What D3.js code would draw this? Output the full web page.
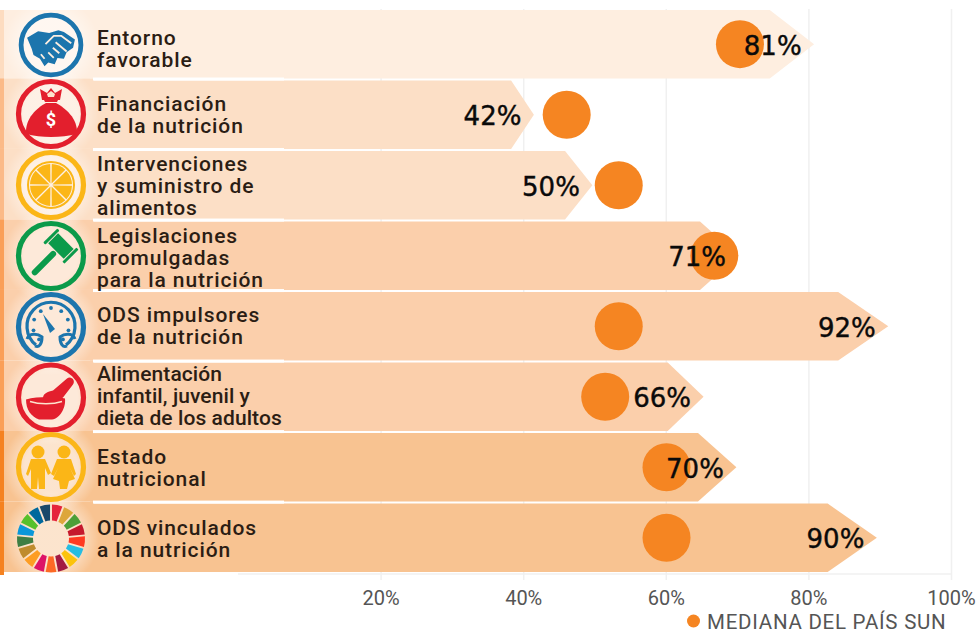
<!DOCTYPE html>
<html>
<head>
<meta charset="utf-8">
<script src="https://cdn.jsdelivr.net/npm/d3@7"></script>
<style>
  html, body { margin: 0; padding: 0; background: #fff; }
  svg { display: block; }
</style>
</head>
<body>
<div id="chart"></div>
<script>
var w = 977
var h = 633

var categories = [
  ["Entorno", "favorable"],
  ["Financiación", "de la nutrición"],
  ["Intervenciones", "y suministro de", "alimentos"],
  ["Legislaciones", "promulgadas", "para la nutrición"],
  ["ODS impulsores", "de la nutrición"],
  ["Alimentación", "infantil, juvenil y", "dieta de los adultos"],
  ["Estado", "nutricional"],
  ["ODS vinculados", "a la nutrición"]
];
var scoreLabels = [81, 42, 50, 71, 92, 66, 70, 90];   // printed on the arrows
var arrowTips = [80.8, 41.5, 49.7, 70.2, 91.2, 65.3, 69.9, 89.6];   // where the drawn tip really lands
var medians = [70.4, 46.1, 53.4, 66.8, 53.4, 51.5, 60.1, 60.1];
var tickValues = [20, 40, 60, 80, 100];
var sdgGoals = d3.range(1, 18);

var rowColors = ["#feeee0", "#fcdfc6", "#fcdfc6", "#fbcfab", "#fbcfab", "#fbcfab", "#f8c391", "#f8c391"];
var stripColors = ["#fddcc0", "#fbba88", "#fbba88", "#fa9f58", "#fa9f58", "#fa9f58", "#f58220", "#f58220"];
var sdgColors = ["#e5243b", "#dda63a", "#4c9f38", "#c5192d", "#ff3a21", "#26bde2", "#fcc30b", "#a21942", "#fd6925",
                 "#dd1367", "#fd9d24", "#bf8b2e", "#3f7e44", "#0a97d9", "#56c02b", "#00689d", "#19486a"];
var orange = "#f58522";
var blue = "#1c75ad", red = "#e31f2d", yellow = "#fbb617", green = "#0b9a4a";

var x = d3.scaleLinear().domain([0, 100]).range([238, 951]);
var y = d3.scaleBand().domain(d3.range(categories.length)).range([10, 572]).paddingInner(0.03);

var svg = d3.select("#chart").append("svg")
    .attr("width", w)
    .attr("height", h);

var defs = svg.append("defs");
var glow = defs.append("radialGradient").attr("id", "glow");
glow.append("stop").attr("offset", "55%").attr("stop-color", "#fff").attr("stop-opacity", 0.55);
glow.append("stop").attr("offset", "100%").attr("stop-color", "#fff").attr("stop-opacity", 0);

// gridlines come from the axis ticks
var axis = svg.append("g")
    .attr("transform", "translate(0,580)")
    .call(d3.axisBottom(x).tickValues(tickValues).tickSize(-571).tickPadding(11).tickFormat(function(d) { return d + "%"; }));
axis.select(".domain").remove();
axis.selectAll(".tick line").attr("stroke", "#f0f0f0").attr("stroke-width", 1.5);
axis.selectAll(".tick text")
    .style("font-family", "Roboto")
    .style("font-size", "20px")
    .attr("fill", "#555");

svg.append("line")
    .attr("x1", x(0)).attr("x2", x(100))
    .attr("y1", 574).attr("y2", 574)
    .attr("stroke", "#f0f0f0").attr("stroke-width", 1.5);

var rowTop = function(i) { return y(i) - (i ? y.step() - y.bandwidth() : 0); };
var rowHeight = function(i) { return y.bandwidth() + (i ? y.step() - y.bandwidth() : 0); };

// left panel, no gap between the rows under the icons
svg.selectAll("rect.panel").data(categories).enter()
  .append("rect")
    .attr("class", "panel")
    .attr("x", 0)
    .attr("y", function(d, i) { return rowTop(i); })
    .attr("width", 94)
    .attr("height", function(d, i) { return rowHeight(i); })
    .attr("fill", function(d, i) { return rowColors[i]; });

svg.selectAll("path.arrow").data(categories).enter()
  .append("path")
    .attr("class", "arrow")
    .attr("fill", function(d, i) { return rowColors[i]; })
    .attr("d", function(d, i) {
      var tip = x(arrowTips[i]);
      var head = (tip - x(0)) * 0.077;
      var top = y(i), bot = y(i) + y.bandwidth();
      return d3.line()([[90, top], [tip - head, top], [tip, (top + bot) / 2], [tip - head, bot], [90, bot]]) + "Z";
    });

// thicker white rules in the label part
svg.selectAll("rect.rule").data(categories.slice(1)).enter()
  .append("rect")
    .attr("class", "rule")
    .attr("x", 93)
    .attr("y", function(d, i) { return y(i + 1) - 3; })
    .attr("width", 191)
    .attr("height", 3)
    .attr("fill", "#fff");

var iconX = 51;
var iconY = [45, 114, 185, 256, 327, 397.5, 467, 538.5];
var iconRing = [blue, red, yellow, green, blue, red, yellow, null];
var iconScale = [0.92, 1, 1, 1, 1, 1, 1, 1];

svg.selectAll("circle.glow").data(categories).enter()
  .append("circle")
    .attr("class", "glow")
    .attr("cx", iconX)
    .attr("cy", function(d, i) { return iconY[i]; })
    .attr("r", 48)
    .attr("fill", "url(#glow)");

svg.selectAll("rect.strip").data(categories).enter()
  .append("rect")
    .attr("class", "strip")
    .attr("x", 0)
    .attr("y", function(d, i) { return rowTop(i); })
    .attr("width", 4)
    .attr("height", function(d, i) { return rowHeight(i) + (i == 7 ? 3 : 0); })
    .attr("fill", function(d, i) { return stripColors[i]; });

var rows = svg.selectAll("g.row").data(categories).enter()
  .append("g")
    .attr("class", "row");

var icons = rows.append("g")
    .attr("transform", function(d, i) { return "translate(" + iconX + "," + iconY[i] + ") scale(" + iconScale[i] + ")"; });

icons.filter(function(d, i) { return iconRing[i]; }).append("circle")
    .attr("r", 32.5)
    .attr("fill", "none")
    .attr("stroke-width", 5.2)
    .attr("stroke", function(d) { return iconRing[categories.indexOf(d)]; });

var iconAt = function(i) { return icons.filter(function(d, j) { return i == j; }); };

// handshake
var hand = iconAt(0);
hand.append("path").attr("fill", blue)
    .attr("d", "M-26,-8 L-14,-15 L-2,-13 L8,-16 L14,-14 L26,-6 L24,3 L17,8 L14,15 L7,14 L4,21 L-3,19 L-7,23 L-12,15 L-19,11 L-21,4 Z");
hand.append("path").attr("fill", "none").attr("stroke", "#feeee0").attr("stroke-width", 2).attr("stroke-linejoin", "round")
    .attr("d", "M-6,-1 L3,-10 L11,-10 L22,-2 M5,-3 L17,7 M9,9 L2,3 M3,14 L-3,8 M-7,15 L-11,10");

// money bag
var bag = iconAt(1);
bag.append("path").attr("fill", red)
    .attr("d", "M-25,20 C-26,4 -14,-6 -5,-11 L5,-11 C14,-6 27,4 26,20 C10,24 -10,24 -25,20 Z");
bag.append("path").attr("fill", red)
    .attr("d", "M-11,-25 L-4,-21 L0,-26 L4,-21 L11,-25 L9,-14 L-9,-14 Z M-8,-16 L8,-16 L6,-12 L-6,-12 Z");
bag.append("path").attr("fill", "#fde3cd").attr("d", "M-4,-20 L0,-23 L4,-20 L3,-17 L-3,-17 Z");
bag.append("text")
    .attr("y", 12)
    .attr("text-anchor", "middle")
    .style("font-family", "Roboto")
    .style("font-weight", 700)
    .style("font-size", "18px")
    .attr("fill", "#fff")
    .text("$");

// orange slice, one wedge per pie slice
var orangeSlice = iconAt(2);
orangeSlice.append("circle").attr("r", 23).attr("fill", "none").attr("stroke", yellow).attr("stroke-width", 2);
orangeSlice.selectAll("path.wedge").data(d3.pie().value(1).startAngle(0).endAngle(Math.PI * 2)(d3.range(8))).enter()
  .append("path")
    .attr("class", "wedge")
    .attr("fill", yellow)
    .attr("d", d3.arc().innerRadius(1.5).outerRadius(21).padAngle(0.07));

// gavel
var gavel = iconAt(3);
gavel.append("g").attr("transform", "rotate(45)").call(function(g) {
  g.append("rect").attr("x", -3).attr("y", -6).attr("width", 6).attr("height", 32).attr("rx", 3).attr("fill", green);
  g.append("rect").attr("x", -11).attr("y", -21).attr("width", 22).attr("height", 14).attr("fill", green);
  g.append("rect").attr("x", -15).attr("y", -24).attr("width", 3).attr("height", 20).attr("rx", 1).attr("fill", green);
  g.append("rect").attr("x", 12).attr("y", -24).attr("width", 3).attr("height", 20).attr("rx", 1).attr("fill", green);
});

// gauge
var gauge = iconAt(4);
gauge.append("path").attr("fill", "none").attr("stroke", blue).attr("stroke-width", 3.2)
    .attr("d", "M-15,18 A24,24 0 1 1 15,18");
gauge.append("path").attr("fill", "none").attr("stroke", blue).attr("stroke-width", 3)
    .attr("d", "M-24,12 C-22,6 -14,6 -9,10 C-9,17 -12,21 -16,19 M24,12 C22,6 14,6 9,10 C9,17 12,21 16,19");
gauge.selectAll("circle.dot").data(d3.range(9)).enter()
  .append("circle")
    .attr("class", "dot")
    .attr("r", 1.9)
    .attr("fill", blue)
    .attr("cx", function(d) { return 18 * Math.sin((d - 4) * Math.PI / 5.2); })
    .attr("cy", function(d) { return -18 * Math.cos((d - 4) * Math.PI / 5.2) - 1; });
gauge.append("path").attr("fill", blue).attr("d", "M-8,-13 L4,2 L-1,6 Z");

// mortar and pestle
var mortar = iconAt(5);
mortar.append("path").attr("fill", red)
    .attr("d", "M-25,2 C-14,-1 4,-1 14,1 C15,10 9,21 1,22 L-12,22 C-20,19 -25,12 -25,2 Z");
mortar.append("path").attr("fill", "none").attr("stroke", "#fde3cd").attr("stroke-width", 1.4)
    .attr("d", "M-21,4 C-12,7 2,7 11,4");
mortar.append("path").attr("fill", red)
    .attr("d", "M-8,2 C-9,-4 -3,-6 2,-7 L16,-19 C20,-22 25,-17 22,-13 L12,0 C8,3 -3,4 -8,2 Z");

// two children
var kids = iconAt(6);
[-13, 13].forEach(function(cx, k) {
  kids.append("circle").attr("cx", cx).attr("cy", -15).attr("r", 6.5).attr("fill", yellow);
  kids.append("path").attr("fill", yellow)
      .attr("d", k == 0
        ? "M-20,-8 L-6,-8 L0,6 L-3,8 L-6,1 L-6,22 L-12,22 L-13,10 L-14,22 L-20,22 L-20,2 L-23,9 L-25,7 Z"
        : "M6,-8 L20,-8 L25,7 L23,9 L19,1 L24,12 L18,14 L16,22 L9,22 L8,14 L2,12 L7,1 L3,9 L0,7 Z");
});

// SDG wheel, one arc per goal
var wheel = iconAt(7);
wheel.selectAll("path.goal").data(d3.pie().sort(null).value(1)(sdgGoals)).enter()
  .append("path")
    .attr("class", "goal")
    .attr("fill", function(d, i) { return sdgColors[i]; })
    .attr("d", d3.arc().innerRadius(18).outerRadius(34).padAngle(0.05));

var labelShift = [4, 0, 0, 1.5, -0.5, -1, 0, 1];
var labelSpacing = [0.9, 0.9, 0.9, 0.9, 0.9, 0.08, 0.9, 0.9];

rows.each(function(lines, i) {
  var mid = y(i) + y.bandwidth() / 2 + 7.5 + labelShift[i];
  d3.select(this).selectAll("text.label").data(lines).enter()
    .append("text")
      .attr("class", "label")
      .attr("x", 97)
      .attr("y", function(d, j) { return mid + (j - (lines.length - 1) / 2) * 22; })
      .style("font-family", "Roboto")
      .style("font-weight", 500)
      .style("font-size", "21px")
      .style("letter-spacing", labelSpacing[i] + "px")
      .attr("fill", "#2b1d14")
      .text(function(d) { return d; });
});

rows.append("circle")
    .attr("cx", function(d, i) { return x(medians[i]); })
    .attr("cy", function(d, i) { return y(i) + y.bandwidth() / 2; })
    .attr("r", 24)
    .attr("fill", orange);

rows.append("text")
    .attr("x", function(d, i) { return x(arrowTips[i]) - 12.5; })
    .attr("y", function(d, i) { return y(i) + y.bandwidth() / 2 + 10.5; })
    .attr("text-anchor", "end")
    .style("font-family", "DejaVu Sans")
    .style("font-size", "26px")
    .attr("fill", "#0a0a0a")
    .attr("stroke", "#0a0a0a")
    .attr("stroke-width", 0.4)
    .text(function(d, i) { return scoreLabels[i] + "%"; });

// legend
svg.append("circle")
    .attr("cx", 693.5).attr("cy", 621).attr("r", 6.5)
    .attr("fill", orange);

svg.append("text")
    .attr("x", 707)
    .attr("y", 628.5)
    .style("font-family", "Roboto")
    .style("font-size", "20.5px")
    .style("letter-spacing", "0.75px")
    .attr("fill", "#555")
    .text("MEDIANA DEL PAÍS SUN");
</script>
</body>
</html>
